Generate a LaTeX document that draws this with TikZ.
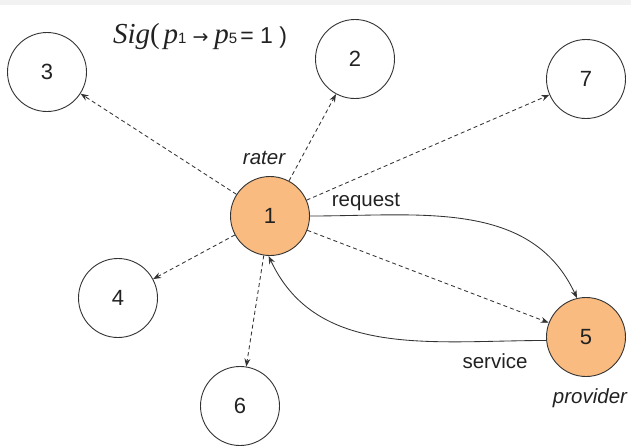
\documentclass[tikz,border=0pt]{standalone}
\usepackage{fontspec}
\setmainfont{Liberation Sans}
\newfontfamily\serifface{Liberation Serif}
\newfontfamily\dvface{DejaVu Sans}
\usetikzlibrary{arrows.meta}
\definecolor{orng}{HTML}{F9BB80}
\definecolor{edgec}{HTML}{333333}
\definecolor{txt}{HTML}{222222}
\begin{document}
\begin{tikzpicture}[x=1pt,y=1pt,
  nd/.style={circle,draw=edgec,line width=0.9pt,minimum size=79pt,inner sep=0pt,text=txt,font=\fontsize{22}{22}\selectfont},
  hot/.style={nd,fill=orng},
  dsh/.style={draw=edgec,line width=0.85pt,dash pattern=on 4pt off 3pt,-{Stealth[length=8pt,width=6pt]}},
  sol/.style={draw=edgec,line width=0.85pt,-{Stealth[length=8pt,width=6pt]}},
  lbl/.style={text=txt,font=\fontsize{20.5}{21}\selectfont,inner sep=0pt}]
\useasboundingbox (0,0) rectangle (631,-445);
\fill[black!5] (0,0) rectangle (631,-5);
\node[hot] (n1) at (270,-216) {1};
\node[nd] (n2) at (355,-59) {2};
\node[nd] (n3) at (47,-72) {3};
\node[nd] (n7) at (586,-79) {7};
\node[nd] (n4) at (118,-298) {4};
\node[hot] (n5) at (586,-337) {5};
\node[nd] (n6) at (240,-406) {6};
\node[lbl] (sig) at (200,-37) {{\serifface\fontsize{29}{29}\selectfont\itshape Sig}{\serifface\fontsize{29}{29}\selectfont(\hspace{4pt}\itshape p}{\fontsize{15}{15}\selectfont 1}\hspace{6pt}{\dvface\fontsize{19}{19}\selectfont →}\hspace{6pt}{\serifface\fontsize{29}{29}\selectfont\itshape p}{\fontsize{15}{15}\selectfont 5}\hspace{3pt}{\fontsize{23}{23}\selectfont= 1 )}};
\node[lbl] (rater) at (264,-158) {\itshape rater};
\node[lbl] (req) at (366,-202) {request};
\node[lbl] (serv) at (495,-361) {service};
\node[lbl] (prov) at (590,-398) {\itshape provider};
\draw[dsh] (n1) -- (n3);
\draw[dsh] (n1) -- (n2);
\draw[dsh] (n1) -- (n7);
\draw[dsh] (n1) -- (n4);
\draw[dsh] (n1) -- (n6);
\draw[dsh] (n1) -- (n5);
\draw[sol] (n1.east) to[out=0,in=115] (n5.103);
\draw[sol] (n5.185) to[out=180,in=-65] (n1.268);
\end{tikzpicture}
\end{document}
